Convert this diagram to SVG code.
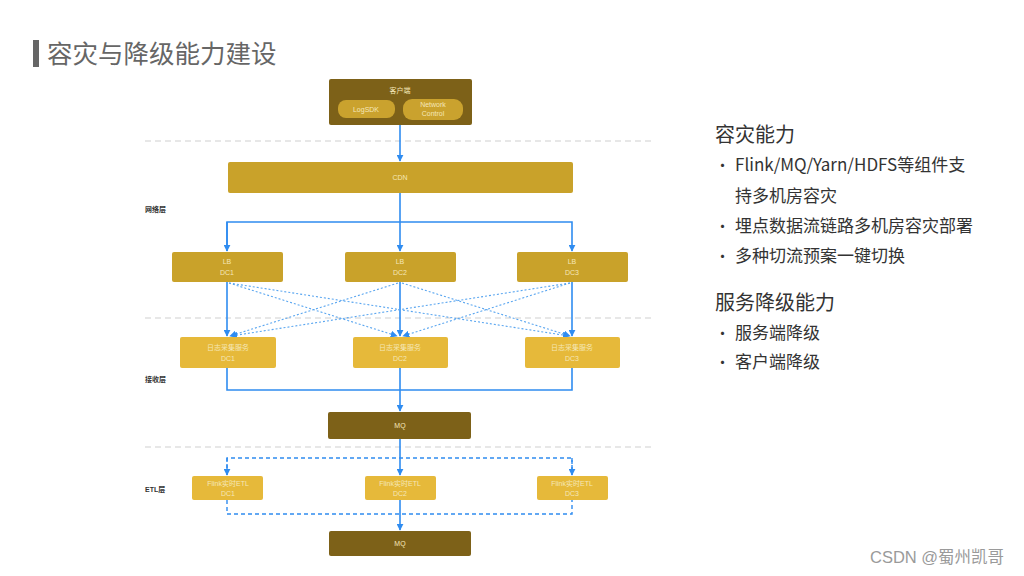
<svg xmlns="http://www.w3.org/2000/svg" width="1024" height="576" viewBox="0 0 1024 576">
<defs>
<style>
.dark{fill:#7d6118}
.gold{fill:#c9a22a}
.light{fill:#e6b93a}
.pill{fill:#caa22e}
.bt{font-family:"Liberation Sans","Noto Sans CJK SC",sans-serif;font-size:7px;fill:#f5e7b8;text-anchor:middle}
.lbl{font-family:"Liberation Sans","Noto Sans CJK SC",sans-serif;font-size:7px;font-weight:bold;fill:#333}
.sep{stroke:#cfcfcf;stroke-width:1;stroke-dasharray:6 4;fill:none}
.ln{stroke:#2f8cf0;stroke-width:1.6;fill:none}
.dl{stroke:#2f8cf0;stroke-width:1.4;fill:none;stroke-dasharray:4 3}
.xl{stroke:#5aa6f0;stroke-width:1.1;fill:none;stroke-dasharray:2 2}
.h1{font-family:"Noto Sans CJK SC",sans-serif;font-size:20px;fill:#333}
.it{font-family:"Noto Sans CJK SC",sans-serif;font-size:17px;fill:#333}
.bu{font-family:"Noto Sans CJK SC",sans-serif;font-size:15px;fill:#333}
</style>
<marker id="ar" viewBox="0 0 10 10" refX="9" refY="5" markerWidth="7" markerHeight="7" orient="auto" markerUnits="userSpaceOnUse">
<path d="M0,0 L10,5 L0,10 z" fill="#2f8cf0"/>
</marker>
</defs>
<rect width="1024" height="576" fill="#ffffff"/>
<g id="title">
<rect x="33" y="40" width="6" height="27" fill="#666"/>
<text x="47" y="63" font-family="Noto Sans CJK SC,sans-serif" font-size="25.5" fill="#666">容灾与降级能力建设</text>
</g>
<g id="separators">
<line class="sep" x1="145" y1="141" x2="655" y2="141"/>
<line class="sep" x1="145" y1="318" x2="655" y2="318"/>
<line class="sep" x1="145" y1="447" x2="655" y2="447"/>
</g>
<g id="layer-labels">
<text class="lbl" x="145" y="212">网络层</text>
<text class="lbl" x="145" y="382">接收层</text>
<text class="lbl" x="145" y="492">ETL层</text>
</g>
<g id="connectors">
<line class="ln" x1="400" y1="125" x2="400" y2="161" marker-end="url(#ar)"/>
<line class="ln" x1="400" y1="193" x2="400" y2="251" marker-end="url(#ar)"/>
<path class="ln" d="M227,251 V222 H572 V251" marker-end="url(#ar)"/>
<line class="ln" x1="227" y1="222" x2="227" y2="251" marker-end="url(#ar)"/>
<line class="ln" x1="227" y1="282" x2="227" y2="336" marker-end="url(#ar)"/>
<line class="ln" x1="400" y1="282" x2="400" y2="336" marker-end="url(#ar)"/>
<line class="ln" x1="572" y1="282" x2="572" y2="336" marker-end="url(#ar)"/>
<line class="xl" x1="229" y1="283" x2="397" y2="336" marker-end="url(#ar)"/>
<line class="xl" x1="229" y1="283" x2="569" y2="336" marker-end="url(#ar)"/>
<line class="xl" x1="398" y1="283" x2="230" y2="336" marker-end="url(#ar)"/>
<line class="xl" x1="402" y1="283" x2="570" y2="336" marker-end="url(#ar)"/>
<line class="xl" x1="570" y1="283" x2="231" y2="336" marker-end="url(#ar)"/>
<line class="xl" x1="570" y1="283" x2="403" y2="336" marker-end="url(#ar)"/>
<path class="ln" d="M227,368 V390 H572 V368"/>
<line class="ln" x1="400" y1="368" x2="400" y2="411" marker-end="url(#ar)"/>
<line class="ln" x1="400" y1="439" x2="400" y2="475" marker-end="url(#ar)"/>
<path class="dl" d="M227,475 V458 H572 V475"/>
<line class="dl" x1="227" y1="458" x2="227" y2="475" marker-end="url(#ar)"/>
<line class="dl" x1="572" y1="458" x2="572" y2="475" marker-end="url(#ar)"/>
<path class="dl" d="M227,500 V514 H572 V500"/>
<line class="ln" x1="400" y1="500" x2="400" y2="530" marker-end="url(#ar)"/>
</g>
<g id="client">
<rect class="dark" x="329" y="79" width="143" height="46" rx="2"/>
<text class="bt" x="400" y="93">客户端</text>
<rect class="pill" x="338" y="100" width="57" height="18" rx="8"/>
<text class="bt" x="366" y="112" font-size="6">LogSDK</text>
<rect class="pill" x="403" y="99" width="60" height="21" rx="9"/>
<text class="bt" x="433" y="107" font-size="6">Network</text>
<text class="bt" x="433" y="116" font-size="6">Control</text>
</g>
<g id="cdn">
<rect class="gold" x="228" y="162" width="345" height="31" rx="2"/>
<text class="bt" x="400" y="180">CDN</text>
</g>
<g id="lb1"><rect class="gold" x="172" y="252" width="111" height="30" rx="2"/><text class="bt" x="227" y="264">LB</text><text class="bt" x="227" y="275">DC1</text></g>
<g id="lb2"><rect class="gold" x="345" y="252" width="111" height="30" rx="2"/><text class="bt" x="400" y="264">LB</text><text class="bt" x="400" y="275">DC2</text></g>
<g id="lb3"><rect class="gold" x="517" y="252" width="111" height="30" rx="2"/><text class="bt" x="572" y="264">LB</text><text class="bt" x="572" y="275">DC3</text></g>
<g id="col1"><rect class="light" x="180" y="337" width="96" height="31" rx="2"/><text class="bt" x="228" y="350">日志采集服务</text><text class="bt" x="228" y="361">DC1</text></g>
<g id="col2"><rect class="light" x="353" y="337" width="95" height="31" rx="2"/><text class="bt" x="400" y="350">日志采集服务</text><text class="bt" x="400" y="361">DC2</text></g>
<g id="col3"><rect class="light" x="525" y="337" width="95" height="31" rx="2"/><text class="bt" x="572" y="350">日志采集服务</text><text class="bt" x="572" y="361">DC3</text></g>
<g id="mq1"><rect class="dark" x="328" y="412" width="143" height="27" rx="2"/><text class="bt" x="400" y="428">MQ</text></g>
<g id="etl1"><rect class="light" x="192" y="476" width="71" height="24" rx="2"/><text class="bt" x="228" y="486">Flink实时ETL</text><text class="bt" x="228" y="496">DC1</text></g>
<g id="etl2"><rect class="light" x="365" y="476" width="71" height="24" rx="2"/><text class="bt" x="400" y="486">Flink实时ETL</text><text class="bt" x="400" y="496">DC2</text></g>
<g id="etl3"><rect class="light" x="537" y="476" width="71" height="24" rx="2"/><text class="bt" x="572" y="486">Flink实时ETL</text><text class="bt" x="572" y="496">DC3</text></g>
<g id="mq2"><rect class="dark" x="329" y="531" width="142" height="25" rx="2"/><text class="bt" x="400" y="546">MQ</text></g>
<g id="notes">
<text class="h1" x="715" y="142">容灾能力</text>
<text class="bu" x="715" y="171">•</text><text class="it" x="735" y="171">Flink/MQ/Yarn/HDFS等组件支</text>
<text class="it" x="735" y="202">持多机房容灾</text>
<text class="bu" x="715" y="232">•</text><text class="it" x="735" y="232">埋点数据流链路多机房容灾部署</text>
<text class="bu" x="715" y="262">•</text><text class="it" x="735" y="262">多种切流预案一键切换</text>
<text class="h1" x="715" y="310">服务降级能力</text>
<text class="bu" x="715" y="339">•</text><text class="it" x="735" y="339">服务端降级</text>
<text class="bu" x="715" y="368">•</text><text class="it" x="735" y="368">客户端降级</text>
</g>
<text x="870" y="563" font-family="Liberation Sans,Noto Sans CJK SC,sans-serif" font-size="16.5" fill="#9a9a9a">CSDN @蜀州凯哥</text>
</svg>
